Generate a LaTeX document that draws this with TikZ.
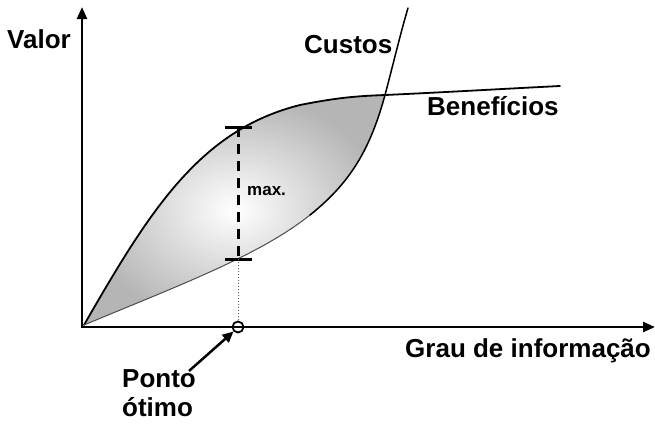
\documentclass[tikz,border=0pt]{standalone}
\usepackage{fontspec}
\setmainfont{Liberation Sans}
\usetikzlibrary{arrows.meta}
\tikzset{
  lbl/.style={font=\fontsize{26}{29}\selectfont\bfseries, inner sep=0pt, anchor=base west},
  axisline/.style={line width=2.5pt, -{Triangle[length=12pt,width=10pt]}},
  curve/.style={line width=1.8pt, line cap=round},
  tickmark/.style={line width=3pt},
}
\begin{document}
\begin{tikzpicture}[x=1pt,y=-1pt]
\useasboundingbox (0,0) rectangle (655,424);
% shaded region
\path[shading=radial, inner color=white, outer color=gray!58]
  (84,325) .. controls (150,210) and (200,130) .. (300,105)
  .. controls (340,97) and (360,96) .. (385,95)
  .. controls (370,150) and (350,183) .. (310,215)
  .. controls (260,255) and (180,285) .. (84,325) -- cycle;
% benefits
\draw[curve] (84,325) .. controls (150,210) and (200,130) .. (300,105)
  .. controls (340,97) and (360,96) .. (385,95)
  .. controls (450,92) and (500,89) .. (560,86);
% costs
\draw[line width=1pt, gray!60!black] (84,325) .. controls (180,285) and (260,255) .. (310,215);
\draw[line width=1.5pt, line cap=round] (310,215) .. controls (350,183) and (370,150) .. (385,95)
  .. controls (393,65) and (400,35) .. (408,8);
% axes
\coordinate (o) at (82,327);
\coordinate (ytop) at (82,7);
\coordinate (xend) at (655,327);
\draw[axisline] (82,328.2) -- (ytop);
\draw[axisline] (80.8,327) -- (xend);
% max marker
\coordinate (top) at (238,127);
\coordinate (bot) at (238,259);
\coordinate (ax) at (238,321);
\draw[line width=3pt, dash pattern=on 10pt off 7pt] (top) -- (bot);
\draw[tickmark] (225,127) -- (252,127);
\draw[tickmark] (225,259) -- (252,259);
\draw[line width=1pt, dotted, gray!70!black] (bot) -- (ax);
\node[circle, draw, line width=1.8pt, minimum size=11pt, inner sep=0pt] (opt) at (238,327) {};
% labels
\node[lbl] (valor) at (7,48) {Valor};
\node[lbl] (custos) at (304,53) {Custos};
\node[lbl] (benef) at (427,115) {Benefícios};
\node[lbl] (grau) at (405,357) {Grau de informação};
\node[lbl] (ponto) at (122,387) {Ponto};
\node[lbl] (otimo) at (122,416) {ótimo};
\node[font=\fontsize{17}{20}\selectfont\bfseries, inner sep=0pt, anchor=base west] (maxl) at (247,195) {max.};
% arrow to optimum
\coordinate (ptail) at (189,371);
\draw[line width=2.5pt, -{Triangle[length=11pt,width=10pt]}] (ptail) -- (opt.south west);
\end{tikzpicture}
\end{document}
